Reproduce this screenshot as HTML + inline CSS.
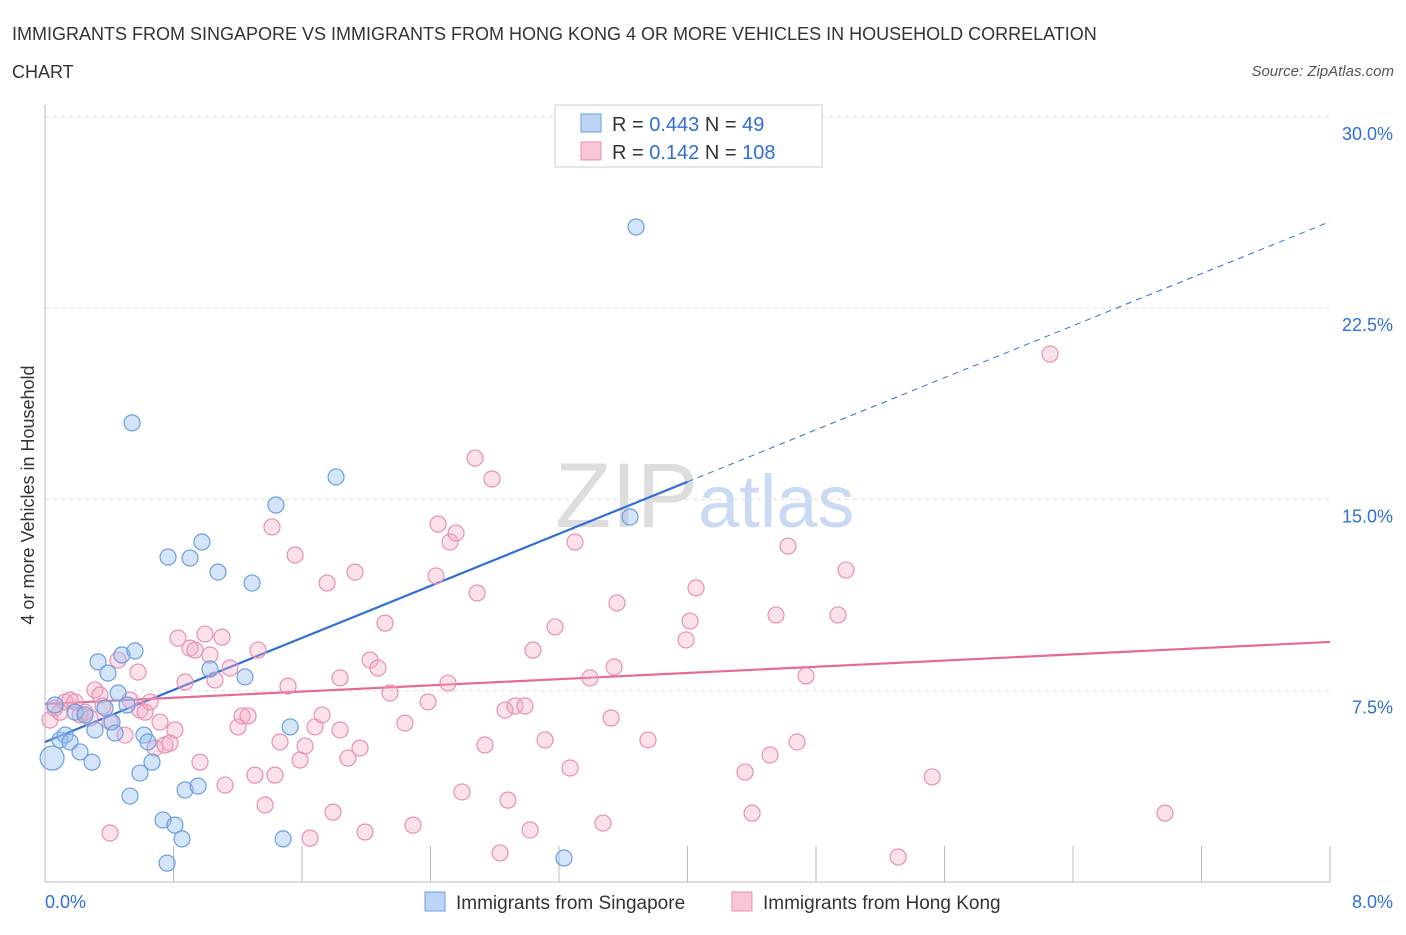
<!DOCTYPE html>
<html><head><meta charset="utf-8"><style>
body{margin:0;background:#fff;font-family:"Liberation Sans",sans-serif;}
svg text{font-family:"Liberation Sans",sans-serif;}
</style></head><body>
<svg id="chart" width="1406" height="930" viewBox="0 0 1406 930">
<text x="12" y="40" font-size="18" fill="#333">IMMIGRANTS FROM SINGAPORE VS IMMIGRANTS FROM HONG KONG 4 OR MORE VEHICLES IN HOUSEHOLD CORRELATION</text>
<text x="12" y="78" font-size="18" fill="#333">CHART</text>
<text x="1394" y="76" font-size="15" fill="#555" text-anchor="end" font-style="italic">Source: ZipAtlas.com</text>
<text transform="translate(34,495) rotate(-90)" font-size="18" fill="#333" text-anchor="middle">4 or more Vehicles in Household</text>
<text x="555" y="527" font-size="92" fill="#ddd" font-family="Liberation Serif">ZIP<tspan fill="#c9daf2" font-family="Liberation Sans" font-size="74">atlas</tspan></text>
<g id="grid"></g><g id="axes"></g><g id="lines"></g><g id="pts"></g>
<g>
<rect x="555" y="105" width="267" height="62" fill="#fff" stroke="#ccc"/>
<rect x="581" y="114" width="20" height="18" fill="#bcd5f5" stroke="#6a9ee0"/>
<rect x="581" y="142" width="20" height="18" fill="#f8c6d6" stroke="#e890b0"/>
<text x="612" y="131" font-size="20" fill="#333">R = <tspan fill="#2f6fd6">0.443</tspan>   N =  <tspan fill="#2f6fd6"> 49</tspan></text>
<text x="612" y="159" font-size="20" fill="#333">R =  <tspan fill="#2f6fd6">0.142</tspan>   N = <tspan fill="#2f6fd6">108</tspan></text>
</g>
<g>
<rect x="425" y="892" width="20" height="19" fill="#bcd5f5" stroke="#6a9ee0"/>
<text x="456" y="909" font-size="19" fill="#333">Immigrants from Singapore</text>
<rect x="732" y="892" width="20" height="19" fill="#f8c6d6" stroke="#e890b0"/>
<text x="763" y="909" font-size="19" fill="#333">Immigrants from Hong Kong</text>
</g>
</svg>
<script>
const yTicks=[7.5,15,22.5,30];
const yTickLabels=["7.5%","15.0%","22.5%","30.0%"];
const xTicks=[0,0.8,1.6,2.4,3.2,4.0,4.8,5.6,6.4,7.2,8.0];
const xEndLabels=["0.0%","8.0%"];
const blueX=[0.044,0.062,0.093,0.125,0.156,0.187,0.218,0.249,0.293,0.311,0.330,0.374,0.392,0.417,0.436,0.455,0.479,0.511,0.560,0.542,0.591,0.616,0.641,0.666,0.529,0.735,0.760,0.809,0.853,0.872,0.953,0.766,0.903,0.977,1.027,1.077,1.245,1.289,1.438,1.482,1.526,1.812,3.231,3.642,3.680];
const blueY=[4.86,6.94,5.57,5.76,5.49,6.66,5.10,6.55,4.70,5.96,8.63,6.82,8.19,6.27,5.84,7.41,8.90,6.94,9.06,18.0,4.27,5.76,5.49,4.70,3.37,2.43,0.74,2.23,1.69,3.61,3.76,12.74,12.70,13.33,8.35,12.15,8.04,11.72,14.78,1.69,6.08,15.88,0.94,14.31,25.68];
const pinkX=[0.031,0.062,0.093,0.125,0.156,0.187,0.218,0.249,0.280,0.311,0.342,0.361,0.405,0.455,0.498,0.529,0.579,0.591,0.623,0.654,0.685,0.716,0.747,0.778,0.809,0.828,0.872,0.903,0.934,0.965,0.996,1.027,1.058,1.102,1.121,1.152,1.202,1.227,1.264,1.307,1.326,1.370,1.413,1.432,1.463,1.513,1.557,1.588,1.619,1.650,1.681,1.725,1.756,1.793,1.837,1.837,1.886,1.930,1.961,1.992,2.024,2.073,2.117,2.148,2.241,2.291,2.385,2.434,2.447,2.509,2.522,2.559,2.596,2.677,2.690,2.739,2.783,2.833,2.864,2.882,2.926,2.988,3.020,3.038,3.113,3.175,3.269,3.300,3.393,3.474,3.524,3.543,3.561,3.754,3.991,4.016,4.053,4.358,4.402,4.514,4.551,4.626,4.682,4.738,4.937,4.987,5.311,5.523,6.257,6.973,0.405];
const pinkY=[6.35,6.82,6.66,7.06,7.13,7.06,6.55,6.66,6.43,7.53,7.33,6.90,6.27,8.70,5.76,7.13,8.23,6.74,6.66,7.06,5.25,6.27,5.37,5.45,5.96,9.56,7.84,9.17,9.09,4.70,9.72,8.90,7.92,9.60,3.80,8.39,6.08,6.51,6.51,4.19,9.09,3.02,13.92,4.19,5.49,7.68,12.82,4.78,5.33,1.72,6.08,6.55,11.72,2.74,5.96,8.00,4.86,12.15,5.25,1.96,8.70,8.39,10.15,7.41,6.23,2.23,7.06,12.00,14.03,7.80,13.33,13.68,3.53,16.62,11.33,5.37,15.80,1.14,6.74,3.21,6.90,6.90,2.04,9.09,5.57,10.00,4.47,13.33,8.00,2.31,6.43,8.43,10.94,5.57,9.49,10.23,11.53,4.31,2.70,4.98,10.47,13.17,5.49,8.08,10.47,12.23,0.98,4.12,20.70,2.70,1.92];
const blueFit=[5.49,2.55];
const pinkFit=[6.98,0.304];
const NS='http://www.w3.org/2000/svg';
const X=v=>45+v/8*1285, Y=v=>882-v/7.5*191.3;
function mk(g,t,a){const e=document.createElementNS(NS,t);for(const k in a)e.setAttribute(k,a[k]);document.getElementById(g).appendChild(e);return e;}
yTicks.forEach((t,i)=>{
 const l=mk('grid','line',{x1:45,x2:1330,y1:Y(t),y2:Y(t),stroke:'#ddd','stroke-dasharray':'4,4'});
 
 
 const tx=mk('grid','text',{x:1393,y:Y(t)+23,'font-size':18,fill:'#2f6fd6','text-anchor':'end'});
 tx.textContent=yTickLabels[i];
 
 
});
const ax=mk('axes','line',{x1:45,x2:1330,y1:882,y2:882,stroke:'#bbb'});


const ay=mk('axes','line',{x1:45,x2:45,y1:105,y2:882,stroke:'#bbb'});


xTicks.forEach(t=>{const l=mk('axes','line',{x1:X(t),x2:X(t),y1:846,y2:882,stroke:'#bbb'});
 
 });
[[0,'start',45],[1,'end',1393]].forEach(([i,a,x])=>{const t=mk('axes','text',{x:x,y:908,'font-size':18,fill:'#2f6fd6','text-anchor':a});t.textContent=xEndLabels[i];
 
 });
const bx=4.0;
let e=mk('lines','line',{x1:X(0),y1:Y(blueFit[0]),x2:X(bx),y2:Y(blueFit[0]+blueFit[1]*bx),stroke:'#2f6fd6','stroke-width':2.2});


e=mk('lines','line',{x1:X(bx),y1:Y(blueFit[0]+blueFit[1]*bx),x2:X(8),y2:Y(blueFit[0]+blueFit[1]*8),stroke:'#2f6fd6','stroke-width':1,'stroke-dasharray':'6,5'});


e=mk('lines','line',{x1:X(0),y1:Y(pinkFit[0]),x2:X(8),y2:Y(pinkFit[0]+pinkFit[1]*8),stroke:'#e46a98','stroke-width':2.2});


pinkX.forEach((x,i)=>{const c=mk('pts','circle',{cx:X(x),cy:Y(pinkY[i]),r:8,fill:'rgba(244,168,196,0.35)',stroke:'#e890b0','stroke-width':1.2});
 
 });
blueX.forEach((x,i)=>{const c=mk('pts','circle',{cx:X(x),cy:Y(blueY[i]),r:i==0?12:8,fill:'rgba(150,190,240,0.4)',stroke:'#6a9ee0','stroke-width':1.2});
 
 });
</script>
</body></html>
